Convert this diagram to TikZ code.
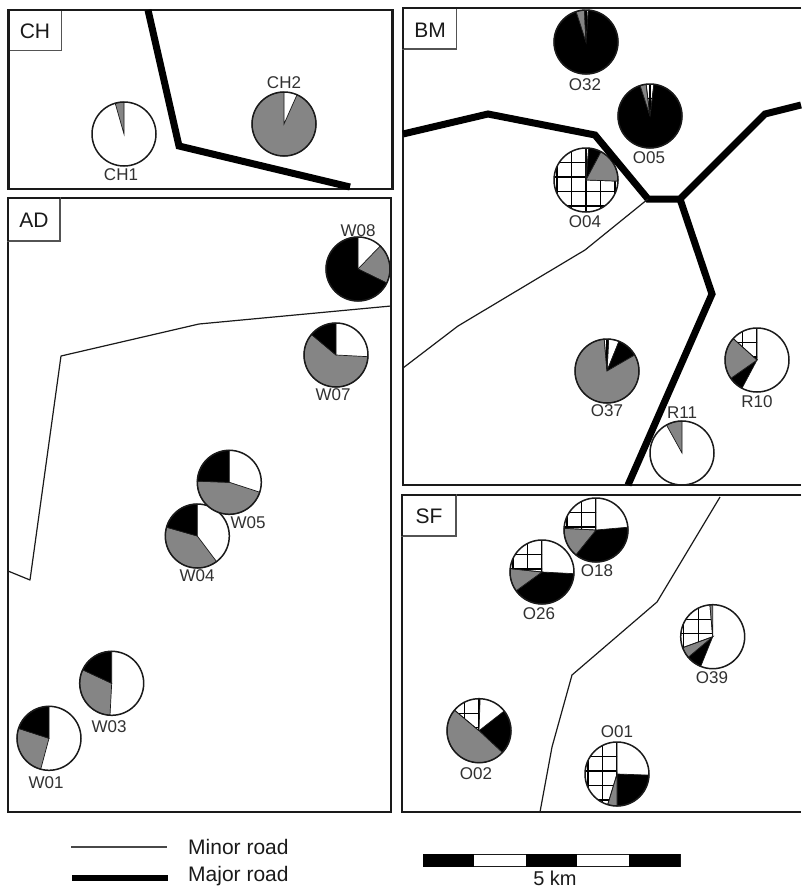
\documentclass[tikz,border=0pt]{standalone}
\usepackage{fontspec}
\setmainfont{Liberation Sans}
\definecolor{inkc}{HTML}{1A1A1A}
\definecolor{pgray}{HTML}{858585}
\tikzset{
  frameline/.style={draw=inkc,line width=2.2pt},
  tagbox/.style={draw=inkc!75,line width=1.2pt,fill=white},
  tagtext/.style={font=\fontsize{21}{23}\selectfont,text=inkc,inner sep=0pt},
  sitetext/.style={font=\fontsize{17}{19}\selectfont,text=inkc!90,inner sep=0pt},
  legendtext/.style={font=\fontsize{21}{23}\selectfont,text=inkc,inner sep=0pt,anchor=west},
  majorroad/.style={draw=black,line width=7pt,line join=miter},
  minorroad/.style={draw=inkc,line width=1.2pt,line join=round},
  rim/.style={draw=inkc,line width=1.5pt},
  slicesep/.style={draw=inkc,line width=0.7pt},
  hatchline/.style={draw=black,line width=1.4pt}
}
\newcommand{\wdg}[5]{\path[fill=#5,slicesep] (#1,#2) -- ++(#3-90:32) arc[start angle=#3-90,end angle=#4-90,radius=32] -- cycle;}
\newcommand{\hatchwdg}[4]{%
  \begin{scope}
    \clip (#1,#2) -- ++(#3-90:32) arc[start angle=#3-90,end angle=#4-90,radius=32] -- cycle;
    \foreach \k in {-3,...,3}{
      \draw[hatchline] ({#1+\k*14.5},{#2-34}) -- ({#1+\k*14.5},{#2+34});
      \draw[hatchline] ({#1-34},{#2-3+\k*14.5}) -- ({#1+34},{#2-3+\k*14.5});
    }
  \end{scope}
  \path[slicesep] (#1,#2) -- ++(#3-90:32) (#1,#2) -- ++(#4-90:32);}
\newcommand{\disk}[2]{\fill[white] (#1,#2) circle[radius=32];}
\newcommand{\rimc}[2]{\path[rim] (#1,#2) circle[radius=32];}
\begin{document}
\begin{tikzpicture}[x=1pt,y=-1pt]
\useasboundingbox (0,0) rectangle (801,889);
\fill[white] (0,0) rectangle (801,889);

% frames
\path[frameline] (8.5,9.7) rectangle (392.5,189);
\path[frameline] (8,198) rectangle (391,812);
\path[frameline] (801,8) -- (403,8) -- (403,485) -- (801,485);
\path[frameline] (801,495) -- (402,495) -- (402,812) -- (801,812);

% CH
\disk{124}{134}\wdg{124}{134}{344}{360}{pgray}\rimc{124}{134}
\disk{284}{124}\wdg{284}{124}{24}{360}{pgray}\rimc{284}{124}
% AD
\disk{358}{269}\wdg{358}{269}{44}{116}{pgray}\wdg{358}{269}{116}{360}{black}\rimc{358}{269}
\disk{336}{355}\wdg{336}{355}{93}{310}{pgray}\wdg{336}{355}{310}{360}{black}\rimc{336}{355}
\disk{197.3}{536}\wdg{197.3}{536}{143}{286}{pgray}\wdg{197.3}{536}{286}{360}{black}\rimc{197.3}{536}
\disk{229.3}{482.3}\wdg{229.3}{482.3}{108}{272}{pgray}\wdg{229.3}{482.3}{272}{360}{black}\rimc{229.3}{482.3}
\disk{111.7}{683.3}\wdg{111.7}{683.3}{183}{295}{pgray}\wdg{111.7}{683.3}{295}{360}{black}\rimc{111.7}{683.3}
\disk{49}{738.3}\wdg{49}{738.3}{195}{288}{pgray}\wdg{49}{738.3}{288}{360}{black}\rimc{49}{738.3}
% BM
\disk{586}{42}\wdg{586}{42}{4}{342}{black}\wdg{586}{42}{342}{357}{pgray}\hatchwdg{586}{42}{357}{364}\rimc{586}{42}
\disk{650}{116}\wdg{650}{116}{7}{342}{black}\wdg{650}{116}{342}{353}{pgray}\hatchwdg{650}{116}{353}{367}\rimc{650}{116}
\disk{586}{180}\hatchwdg{586}{180}{92}{360}\wdg{586}{180}{5}{28}{black}\wdg{586}{180}{28}{92}{pgray}\hatchwdg{586}{180}{0}{5}\rimc{586}{180}
\disk{607}{371}\wdg{607}{371}{3}{22}{white}\wdg{607}{371}{22}{60}{black}\wdg{607}{371}{60}{355}{pgray}\hatchwdg{607}{371}{355}{363}\rimc{607}{371}
\disk{757}{360}\wdg{757}{360}{208}{235}{black}\wdg{757}{360}{235}{312}{pgray}\hatchwdg{757}{360}{312}{360}\rimc{757}{360}
\disk{682}{453}\wdg{682}{453}{331}{360}{pgray}\rimc{682}{453}
% SF
\disk{542}{572}\wdg{542}{572}{93}{234}{black}\wdg{542}{572}{234}{276}{pgray}\hatchwdg{542}{572}{276}{360}\rimc{542}{572}
\disk{596}{530}\wdg{596}{530}{85}{219}{black}\wdg{596}{530}{219}{273}{pgray}\hatchwdg{596}{530}{273}{360}\rimc{596}{530}
\disk{712.7}{636.7}\wdg{712.7}{636.7}{202}{230}{black}\wdg{712.7}{636.7}{230}{250}{pgray}\hatchwdg{712.7}{636.7}{250}{355}\wdg{712.7}{636.7}{355}{360}{pgray}\rimc{712.7}{636.7}
\disk{479}{730.7}\wdg{479}{730.7}{52}{133}{black}\wdg{479}{730.7}{133}{310}{pgray}\hatchwdg{479}{730.7}{310}{362}\rimc{479}{730.7}
\disk{617}{774}\wdg{617}{774}{92}{180}{black}\wdg{617}{774}{180}{197}{pgray}\hatchwdg{617}{774}{197}{360}\rimc{617}{774}

% roads
\path[majorroad] (148,10) -- (179,146) -- (350,187);
\path[majorroad] (403,134) -- (488,114) -- (595,135) -- (648,199) -- (680,199) -- (765,114) -- (801,105);
\path[majorroad] (680,199) -- (712,294) -- (628,485);
\path[minorroad] (648,199) -- (585,250) -- (458,326) -- (403,368);
\path[minorroad] (720,497) -- (657,602) -- (572,675) -- (552,747) -- (540,812);
\path[minorroad] (8,571) -- (30,580) -- (61,356) -- (199,324) -- (391,306);

% tags
\path[tagbox] (8.5,9.7) rectangle (61.5,50.5);
\path[tagbox] (8,198) rectangle (60,241);
\path[tagbox] (403,8) rectangle (456.7,49);
\path[tagbox] (402,495) rectangle (456,536);
\draw[inkc,line width=2.2pt] (8.5,50.5) -- (8.5,9.7) -- (61.5,9.7) (8,241) -- (8,198) -- (60,198) (403,49) -- (403,8) -- (456.7,8) (402,536) -- (402,495) -- (456,495);
\node[tagtext] (tagCH) at (35,31) {CH};
\node[tagtext] (tagAD) at (34,220) {AD};
\node[tagtext] (tagBM) at (430,30) {BM};
\node[tagtext] (tagSF) at (429,516) {SF};

% site labels
\node[sitetext] (CH1) at (121,175) {CH1};
\node[sitetext] (CH2) at (284,83) {CH2};
\node[sitetext] (O32) at (585,85) {O32};
\node[sitetext] (O05) at (649,158) {O05};
\node[sitetext] (O04) at (585,222) {O04};
\node[sitetext] (O37) at (607,411) {O37};
\node[sitetext] (R11) at (682,413) {R11};
\node[sitetext] (R10) at (757,402) {R10};
\node[sitetext] (O18) at (597,571) {O18};
\node[sitetext] (O26) at (539,614) {O26};
\node[sitetext] (O39) at (712,678) {O39};
\node[sitetext] (O02) at (476,774) {O02};
\node[sitetext] (O01) at (617,732) {O01};
\node[sitetext] (W08) at (358,231) {W08};
\node[sitetext] (W07) at (333,395) {W07};
\node[sitetext] (W05) at (248,523) {W05};
\node[sitetext] (W04) at (197,576) {W04};
\node[sitetext] (W03) at (109,727) {W03};
\node[sitetext] (W01) at (46,783) {W01};

% legend
\coordinate (mnA) at (71,847);
\coordinate (mnB) at (167,847);
\coordinate (mjA) at (72,878);
\coordinate (mjB) at (168,878);
\path[minorroad,draw=inkc!80,line width=1.4pt] (mnA) -- (mnB);
\path[draw=black,line width=6.5pt] (mjA) -- (mjB);
\node[legendtext] (lgMinor) at (188,847) {Minor road};
\node[legendtext] (lgMajor) at (188,876.5) {Major road};

% scale bar
\draw[inkc,line width=1pt,fill=white] (423,854.5) rectangle (680,866);
\foreach \s in {0,2,4}{
  \fill[black] ({423+\s*51.4},854) rectangle ({423+(\s+1)*51.4},866.5);
}
\node[inner sep=0pt,font=\fontsize{20}{22}\selectfont,text=inkc] (lgScale) at (555,878) {5 km};
\end{tikzpicture}
\end{document}
